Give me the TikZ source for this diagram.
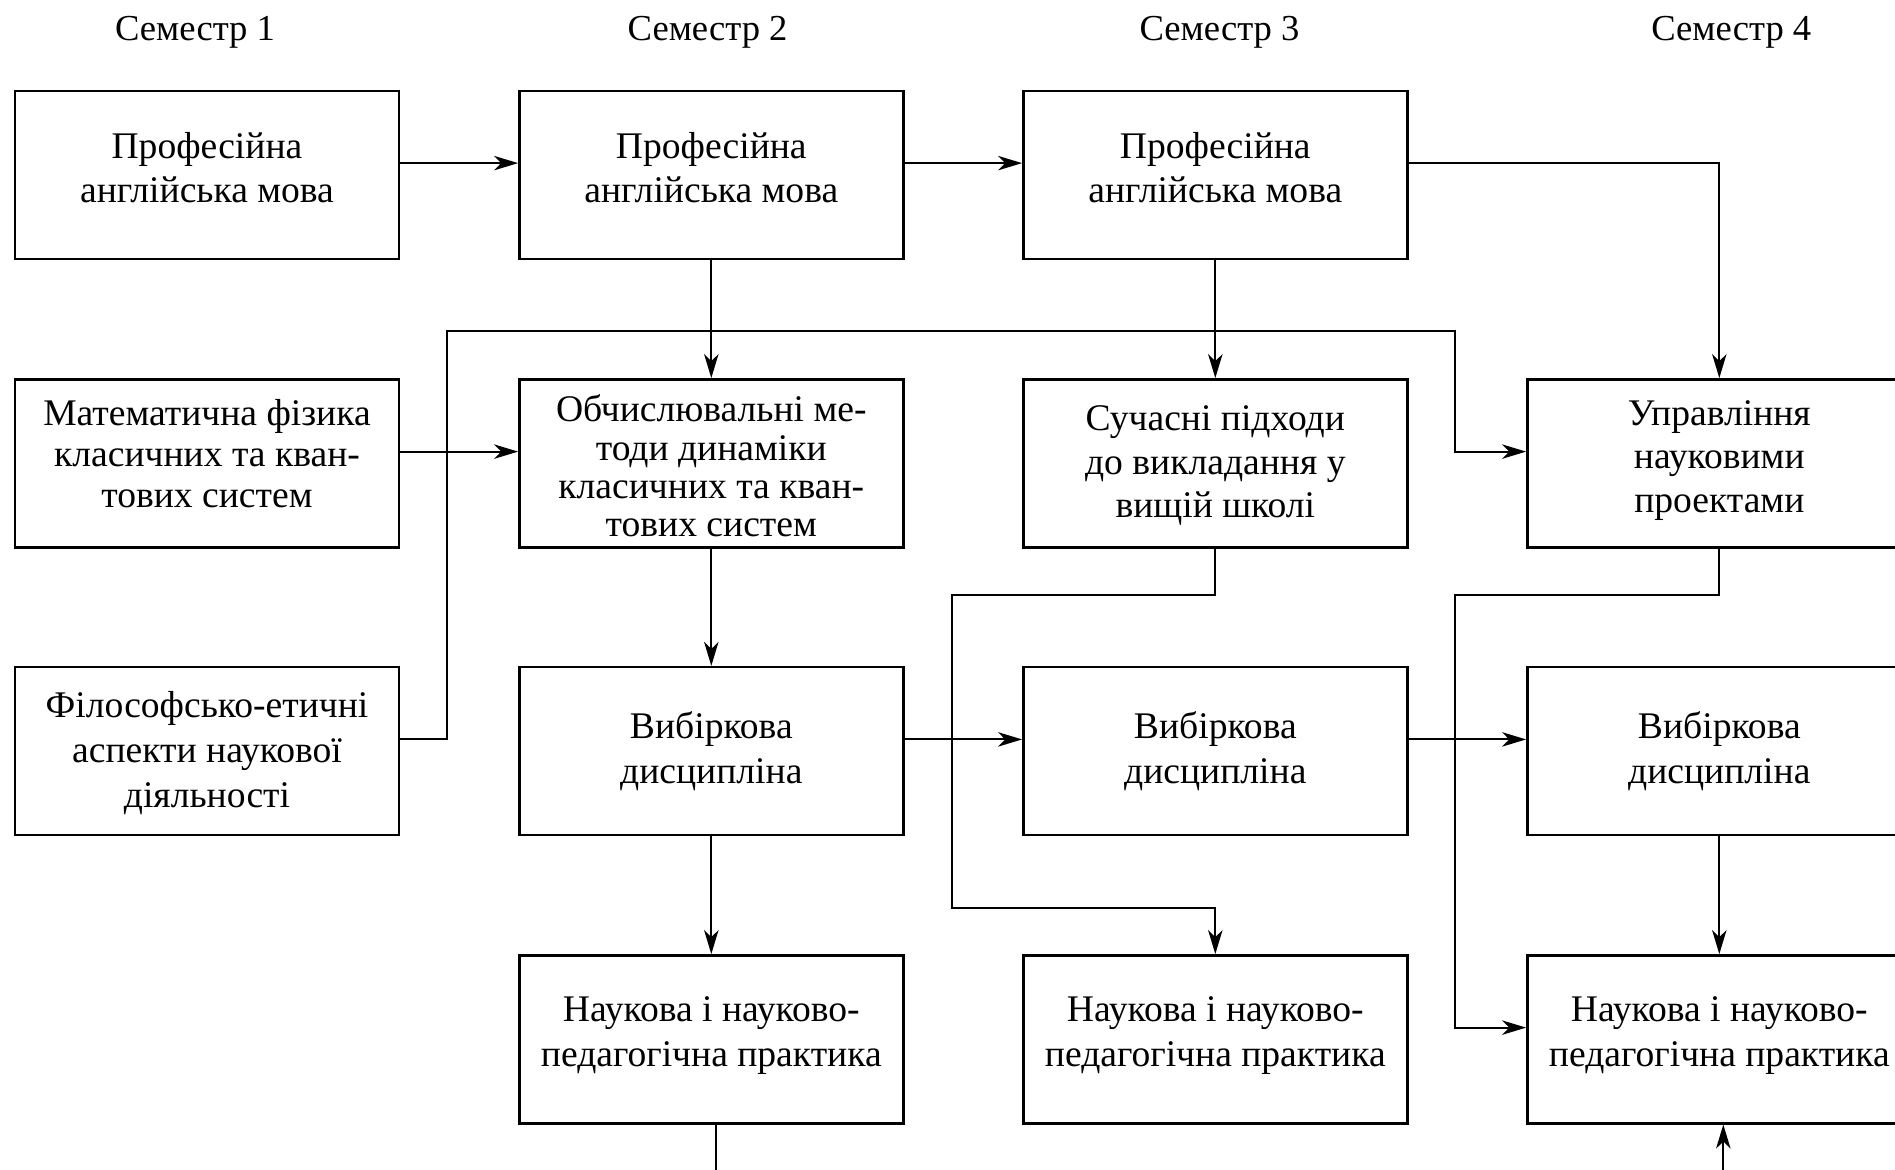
\documentclass[tikz,border=0pt]{standalone}
\usepackage{fontspec}
\setmainfont{Liberation Serif}
\usetikzlibrary{arrows.meta}
\begin{document}
\begin{tikzpicture}[x=0.5pt,y=-0.5pt,
  box/.style={draw, line width=1.2pt, minimum width=192pt, minimum height=84pt, inner sep=0pt},
  txt/.style={inner sep=0pt, align=center, font=\fontsize{18.8}{22.4}\selectfont},
  hdr/.style={font=\fontsize{18.3}{22}\selectfont, anchor=base, inner sep=0pt},
  conn/.style={line width=1pt},
  arr/.style={conn, -{Stealth[length=12pt,width=7.2pt,inset=3.5pt]}},
]
\useasboundingbox (0,0) rectangle (1895,1169);
\def\ay{5.85pt}
% headers
\node[hdr] (h1) at (195,40) {Семестр 1};
\node[hdr] (h2) at (707.6,40) {Семестр 2};
\node[hdr] (h3) at (1219.5,40) {Семестр 3};
\node[hdr] (h4) at (1731.3,40) {Семестр 4};
% boxes
\node[box] (a1) at (207,174.8) {};
\node[box] (a2) at (711.3,174.8) {};
\node[box] (a3) at (1215.3,174.8) {};
\node[box] (b1) at (207,463.3) {};
\node[box] (b2) at (711.3,463.3) {};
\node[box] (b3) at (1215.3,463.3) {};
\node[box] (b4) at (1719.3,463.3) {};
\node[box] (c1) at (207,751.1) {};
\node[box] (c2) at (711.3,751.1) {};
\node[box] (c3) at (1215.3,751.1) {};
\node[box] (c4) at (1719.3,751.1) {};
\node[box] (d2) at (711.3,1039.3) {};
\node[box] (d3) at (1215.3,1039.3) {};
\node[box] (d4) at (1719.3,1039.3) {};
% texts
\node[txt] (a1t) at ([yshift=3.6pt]a1.center) {Професійна\\англійська мова};
\node[txt] (a2t) at ([yshift=3.6pt]a2.center) {Професійна\\англійська мова};
\node[txt] (a3t) at ([yshift=3.6pt]a3.center) {Професійна\\англійська мова};
\node[txt, font=\fontsize{18.8}{20.5}\selectfont] (b1t) at ([yshift=4.6pt]b1.center) {Математична фізика\\класичних та кван-\\тових систем};
\node[txt, font=\fontsize{18.8}{19.2}\selectfont] (b2t) at ([yshift=-1.4pt]b2.center) {Обчислювальні ме-\\тоди динаміки\\класичних та кван-\\тових систем};
\node[txt, font=\fontsize{18.8}{21.8}\selectfont] (b3t) at ([yshift=-1.2pt]b3.center) {Сучасні підходи\\до викладання у\\вищій школі};
\node[txt, font=\fontsize{18.8}{21.8}\selectfont] (b4t) at ([yshift=1.5pt]b4.center) {Управління\\науковими\\проектами};
\node[txt] (c1t) at ([yshift=-0.9pt]c1.center) {Філософсько-етичні\\аспекти наукової\\діяльності};
\node[txt, font=\fontsize{18.8}{22.8}\selectfont] (c2t) at (c2.center) {Вибіркова\\дисципліна};
\node[txt, font=\fontsize{18.8}{22.8}\selectfont] (c3t) at (c3.center) {Вибіркова\\дисципліна};
\node[txt, font=\fontsize{18.8}{22.8}\selectfont] (c4t) at (c4.center) {Вибіркова\\дисципліна};
\node[txt] (d2t) at ([yshift=1.8pt]d2.center) {Наукова і науково-\\педагогічна практика};
\node[txt] (d3t) at ([yshift=1.8pt]d3.center) {Наукова і науково-\\педагогічна практика};
\node[txt] (d4t) at ([yshift=1.8pt]d4.center) {Наукова і науково-\\педагогічна практика};
% routing points
\coordinate (t1) at (446.7,331);
\coordinate (t2) at (1455,331);
\coordinate (t3) at (951.7,595.3);
\coordinate (t4) at (951.7,907.7);
\coordinate (t5) at (1455,595.3);
\coordinate (e2) at (715.7,1190);
\coordinate (e4) at (1723.3,1190);
% connectors
\draw[arr] ([yshift=\ay]a1.east) -- ([yshift=\ay]a2.west);
\draw[arr] ([yshift=\ay]a2.east) -- ([yshift=\ay]a3.west);
\draw[arr] ([yshift=\ay]a3.east) -| (b4.north);
\draw[arr] (a2.south) -- (b2.north);
\draw[arr] (a3.south) -- (b3.north);
\draw[arr] ([yshift=\ay]c1.east) -| (t1) -- (t2) |- ([yshift=\ay]b4.west);
\draw[arr] ([yshift=\ay]b1.east) -- ([yshift=\ay]b2.west);
\draw[arr] (b2.south) -- (c2.north);
\draw[arr] (b3.south) |- (t3) -- (t4) -| (d3.north);
\draw[arr] ([yshift=\ay]c2.east) -- ([yshift=\ay]c3.west);
\draw[arr] ([yshift=\ay]c3.east) -- ([yshift=\ay]c4.west);
\draw[arr] (b4.south) |- (t5) |- ([yshift=\ay]d4.west);
\draw[arr] (c4.south) -- (d4.north);
\draw[arr] (c2.south) -- (d2.north);
\draw[conn] (d2.south -| e2) -- (e2);
\draw[arr] (e4) -- (d4.south -| e4);
\end{tikzpicture}
\end{document}
